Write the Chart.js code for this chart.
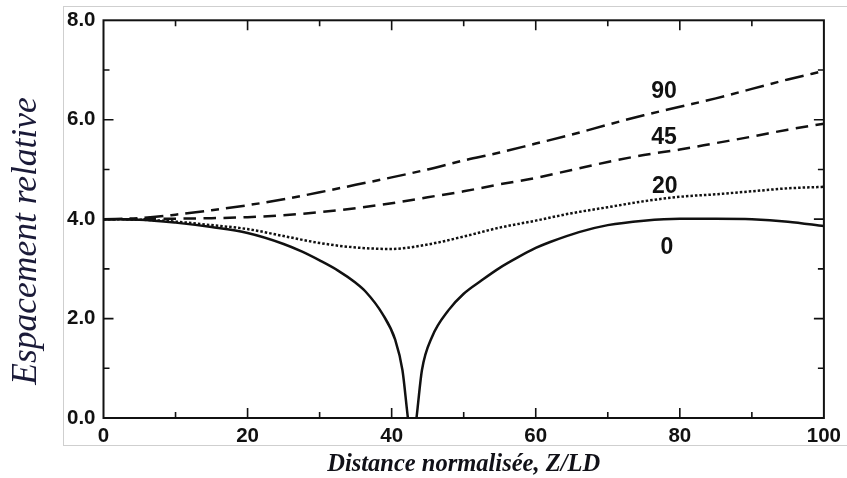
<!DOCTYPE html>
<html>
<head>
<meta charset="utf-8">
<script src="https://cdn.jsdelivr.net/npm/chart.js@4.4.1/dist/chart.umd.min.js"></script>
<style>
  html, body { margin: 0; padding: 0; background: #fff; }
  #wrap { position: relative; width: 847px; height: 478px; }
  #frame { position: absolute; left: 63px; top: 6px; width: 800px; height: 440px;
           border: 1px solid #cfcfcf; box-sizing: border-box; }
  canvas { position: absolute; left: 0; top: 0; }
</style>
</head>
<body>
<div id="wrap">
  <div id="frame"></div>
  <canvas id="c" width="847" height="478"></canvas>
</div>
<script>
// ---- Data ----
const xGrid = [0, 5, 10, 15, 20, 25, 30, 35, 40, 45, 50, 55, 60, 65, 70, 75, 80, 85, 90, 95, 100];
const angle90 = [4.00, 4.02, 4.09, 4.18, 4.28, 4.40, 4.54, 4.69, 4.84, 5.00, 5.18, 5.34, 5.52, 5.70, 5.90, 6.09, 6.26, 6.43, 6.62, 6.81, 6.98];
const angle45 = [4.00, 4.00, 4.01, 4.02, 4.04, 4.08, 4.14, 4.22, 4.32, 4.44, 4.56, 4.70, 4.83, 4.99, 5.15, 5.29, 5.40, 5.53, 5.66, 5.80, 5.92];
const angle20 = [4.00, 3.99, 3.95, 3.88, 3.80, 3.66, 3.52, 3.43, 3.40, 3.49, 3.65, 3.83, 3.97, 4.12, 4.24, 4.36, 4.45, 4.50, 4.56, 4.62, 4.65];
const angle0X = [0, 5, 10, 15, 20, 25, 27.5, 30, 32.5, 35, 36.4, 38.7, 40.5, 41.5, 42.1, 42.25,
                 43.45, 43.6, 44.2, 45.6, 47.9, 50, 52.5, 55, 57.5, 60, 62, 66, 70, 75, 80, 85, 90, 95, 100];
const angle0Y = [4.00, 3.99, 3.93, 3.84, 3.72, 3.50, 3.35, 3.17, 2.97, 2.72, 2.54, 2.10, 1.57, 0.96, 0.20, 0.00,
                 0.00, 0.20, 0.96, 1.63, 2.17, 2.50, 2.77, 3.02, 3.23, 3.42, 3.54, 3.74, 3.88, 3.97, 4.01, 4.01, 4.00, 3.95, 3.86];
const gapAfter0 = 42.25; // the solid curve leaves the plot between the two branches
const curveLabels = ["90", "45", "20", "0"];
const curveLabelX = [77.8, 77.8, 77.9, 78.2];
const curveLabelY = [6.57, 5.64, 4.65, 3.42];
const xTicks = [0, 20, 40, 60, 80, 100];
const yTicks = [0, 2, 4, 6, 8];

// ---- build datasets ----
const pts = (xs, ys) => xs.map((x, i) => ({ x: x, y: ys[i] }));
const solidPts = [];
angle0X.forEach((x, i) => {
  solidPts.push({ x: x, y: angle0Y[i] });
  if (x === gapAfter0) solidPts.push({ x: (x + angle0X[i + 1]) / 2, y: null });
});

const INK = '#111111';
const base = { borderColor: INK, backgroundColor: INK, borderWidth: 2.5, pointRadius: 0,
               cubicInterpolationMode: 'monotone', fill: false, spanGaps: false, clip: 0 };

const decor = {
  id: 'decor',
  afterDatasetsDraw(chart) {
    const ctx = chart.ctx, a = chart.chartArea;
    const xs = chart.scales.x, ys = chart.scales.y;
    ctx.save();
    // frame
    ctx.strokeStyle = INK; ctx.lineWidth = 2;
    ctx.strokeRect(a.left, a.top, a.right - a.left, a.bottom - a.top);
    // inward ticks on all four sides
    ctx.lineWidth = 1.6;
    for (let v = 10; v < 100; v += 10) {
      const p = xs.getPixelForValue(v);
      const L = (v % 20 === 0) ? 10 : 6;
      ctx.beginPath();
      ctx.moveTo(p, a.bottom); ctx.lineTo(p, a.bottom - L);
      ctx.moveTo(p, a.top); ctx.lineTo(p, a.top + L);
      ctx.stroke();
    }
    for (let v = 1; v < 8; v += 1) {
      const p = ys.getPixelForValue(v);
      const L = (v % 2 === 0) ? 10 : 6;
      ctx.beginPath();
      ctx.moveTo(a.left, p); ctx.lineTo(a.left + L, p);
      ctx.moveTo(a.right, p); ctx.lineTo(a.right - L, p);
      ctx.stroke();
    }
    // curve labels
    ctx.fillStyle = INK;
    ctx.font = 'bold 23px "Liberation Sans", Arial, sans-serif';
    ctx.textAlign = 'center'; ctx.textBaseline = 'middle';
    curveLabels.forEach((t, i) => {
      ctx.fillText(t, xs.getPixelForValue(curveLabelX[i]), ys.getPixelForValue(curveLabelY[i]));
    });
    // axis titles
    ctx.font = 'italic bold 24.5px "Liberation Serif", "Times New Roman", serif';
    ctx.fillStyle = '#111118';
    ctx.fillText('Distance normalisée, Z/LD', (a.left + a.right) / 2, 465);
    ctx.save();
    ctx.translate(27, 241);
    ctx.rotate(-Math.PI / 2);
    ctx.font = 'italic 35.5px "Liberation Serif", "Times New Roman", serif';
    ctx.fillStyle = '#1a1a38';
    ctx.fillText('Espacement relative', 0, 0);
    ctx.restore();
    ctx.restore();
  }
};

new Chart(document.getElementById('c'), {
  type: 'line',
  data: {
    datasets: [
      Object.assign({ label: '90', data: pts(xGrid, angle90), borderDash: [19, 7, 8, 7] }, base),
      Object.assign({ label: '45', data: pts(xGrid, angle45), borderDash: [12.5, 7.5] }, base),
      Object.assign({ label: '20', data: pts(xGrid, angle20), borderDash: [2.5, 2] }, base),
      Object.assign({ label: '0', data: solidPts }, base)
    ]
  },
  options: {
    responsive: false,
    animation: false,
    events: [],
    layout: { padding: { top: 19, right: 20.5, left: 0, bottom: 0 } },
    plugins: { legend: { display: false }, tooltip: { enabled: false } },
    scales: {
      x: {
        type: 'linear', min: 0, max: 100,
        afterBuildTicks: s => { s.ticks = xTicks.map(v => ({ value: v })); },
        afterFit: s => { s.height = 60; },
        grid: { display: false, drawTicks: false },
        border: { display: false },
        ticks: { padding: 6, color: INK, maxRotation: 0,
                 font: { family: '"Liberation Sans", Arial, sans-serif', size: 20.5, weight: 'bold' },
                 callback: v => String(v) }
      },
      y: {
        type: 'linear', min: 0, max: 8,
        afterBuildTicks: s => { s.ticks = yTicks.map(v => ({ value: v })); },
        afterFit: s => { s.width = 103.5; },
        grid: { display: false, drawTicks: false },
        border: { display: false },
        ticks: { padding: 8, color: INK,
                 font: { family: '"Liberation Sans", Arial, sans-serif', size: 20.5, weight: 'bold' },
                 callback: v => Number(v).toFixed(1) }
      }
    }
  },
  plugins: [decor]
});
</script>
</body>
</html>
